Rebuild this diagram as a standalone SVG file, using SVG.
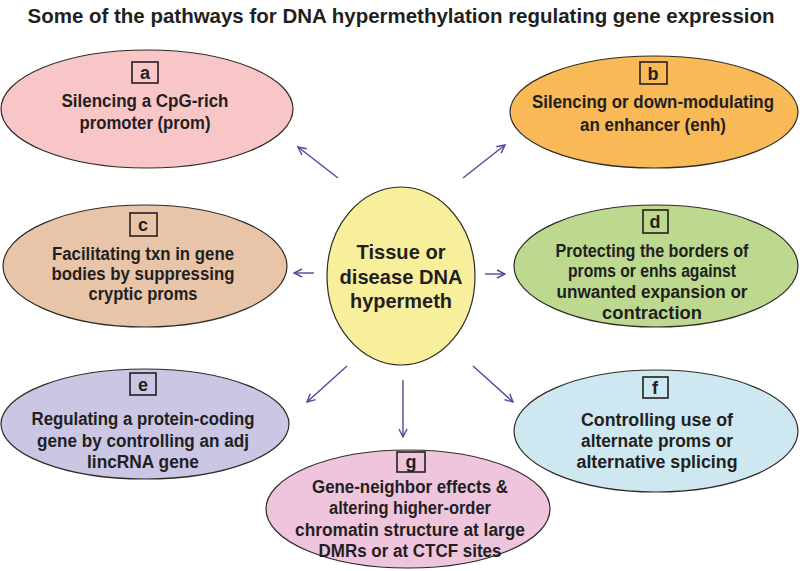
<svg xmlns="http://www.w3.org/2000/svg" width="800" height="571" viewBox="0 0 800 571">
<defs>
<style>
.node ellipse{stroke:#2f2a25;stroke-width:1.2}
.t{font-family:"Liberation Sans",Arial,sans-serif;font-weight:bold;font-size:17.5px;fill:#231f20;text-anchor:middle}
.ct{font-size:21px}
.lb{font-size:18px}
.box{fill:none;stroke:#231f20;stroke-width:1.6}
.conn line{stroke:#4d4a98;stroke-width:1.4;fill:none}
.title{font-family:"Liberation Sans",Arial,sans-serif;font-weight:bold;font-size:21px;fill:#231f20;text-anchor:middle}
</style>
<marker id="arr" viewBox="0 0 10 10" refX="9" refY="5" markerWidth="10" markerHeight="10" markerUnits="userSpaceOnUse" orient="auto">
<polyline points="1,1 9,5 1,9" fill="none" stroke="#4d4a98" stroke-width="1.4"/>
</marker>
</defs>
<rect width="800" height="571" fill="#ffffff"/>
<text class="title" x="401" y="23" textLength="747" lengthAdjust="spacingAndGlyphs">Some of the pathways for DNA hypermethylation regulating gene expression</text>

<g class="conn">
<line x1="338" y1="178" x2="298" y2="147" marker-end="url(#arr)"/>
<line x1="463" y1="178" x2="505" y2="145" marker-end="url(#arr)"/>
<line x1="314" y1="273" x2="294" y2="273" marker-end="url(#arr)"/>
<line x1="485" y1="274" x2="505" y2="274" marker-end="url(#arr)"/>
<line x1="347" y1="366" x2="307" y2="402" marker-end="url(#arr)"/>
<line x1="473" y1="366" x2="513" y2="402" marker-end="url(#arr)"/>
<line x1="403" y1="380" x2="403" y2="437" marker-end="url(#arr)"/>
</g>

<g id="center" class="node">
<ellipse cx="401" cy="276" rx="74" ry="89" fill="#f8ef9c"/>
<text class="t ct" x="401" y="259" textLength="89" lengthAdjust="spacingAndGlyphs">Tissue or</text>
<text class="t ct" x="401" y="284" textLength="123" lengthAdjust="spacingAndGlyphs">disease DNA</text>
<text class="t ct" x="401" y="308" textLength="102" lengthAdjust="spacingAndGlyphs">hypermeth</text>
</g>

<g id="node-a" class="node">
<ellipse cx="147" cy="109" rx="146" ry="59" fill="#f9c6c8"/>
<rect class="box" x="132" y="62" width="26" height="21"/>
<text class="t lb" x="145" y="79">a</text>
<text class="t" x="145" y="107" textLength="167" lengthAdjust="spacingAndGlyphs">Silencing a CpG-rich</text>
<text class="t" x="145" y="129" textLength="131" lengthAdjust="spacingAndGlyphs">promoter (prom)</text>
</g>

<g id="node-b" class="node">
<ellipse cx="654" cy="112" rx="144" ry="56" fill="#f8b956"/>
<rect class="box" x="640" y="62" width="27" height="22"/>
<text class="t lb" x="653" y="80">b</text>
<text class="t" x="653" y="108" textLength="242" lengthAdjust="spacingAndGlyphs">Silencing or down-modulating</text>
<text class="t" x="653" y="131" textLength="146" lengthAdjust="spacingAndGlyphs">an enhancer (enh)</text>
</g>

<g id="node-c" class="node">
<ellipse cx="145" cy="266" rx="142" ry="61" fill="#e8c5a9"/>
<rect class="box" x="130" y="213" width="27" height="23"/>
<text class="t lb" x="143" y="231">c</text>
<text class="t" x="143" y="260" textLength="182" lengthAdjust="spacingAndGlyphs">Facilitating txn in gene</text>
<text class="t" x="143" y="280" textLength="183" lengthAdjust="spacingAndGlyphs">bodies by suppressing</text>
<text class="t" x="143" y="300" textLength="109" lengthAdjust="spacingAndGlyphs">cryptic proms</text>
</g>

<g id="node-d" class="node">
<ellipse cx="656" cy="266" rx="142" ry="61" fill="#bcd98f"/>
<rect class="box" x="643" y="210" width="25" height="23"/>
<text class="t lb" x="655" y="228">d</text>
<text class="t" x="652" y="257" textLength="193" lengthAdjust="spacingAndGlyphs">Protecting the borders of</text>
<text class="t" x="652" y="277" textLength="168" lengthAdjust="spacingAndGlyphs">proms or enhs against</text>
<text class="t" x="652" y="298" textLength="191" lengthAdjust="spacingAndGlyphs">unwanted expansion or</text>
<text class="t" x="652" y="319" textLength="100" lengthAdjust="spacingAndGlyphs">contraction</text>
</g>

<g id="node-e" class="node">
<ellipse cx="145" cy="424" rx="144" ry="55" fill="#cac6e4"/>
<rect class="box" x="130" y="373" width="26" height="22"/>
<text class="t lb" x="143" y="391">e</text>
<text class="t" x="143" y="425" textLength="223" lengthAdjust="spacingAndGlyphs">Regulating a protein-coding</text>
<text class="t" x="143" y="447" textLength="212" lengthAdjust="spacingAndGlyphs">gene by controlling an adj</text>
<text class="t" x="143" y="468" textLength="112" lengthAdjust="spacingAndGlyphs">lincRNA gene</text>
</g>

<g id="node-f" class="node">
<ellipse cx="656" cy="431" rx="142" ry="61" fill="#cde8f0"/>
<rect class="box" x="643" y="377" width="25" height="21"/>
<text class="t lb" x="655" y="394">f</text>
<text class="t" x="657" y="426" textLength="152" lengthAdjust="spacingAndGlyphs">Controlling use of</text>
<text class="t" x="657" y="447" textLength="152" lengthAdjust="spacingAndGlyphs">alternate proms or</text>
<text class="t" x="657" y="468" textLength="161" lengthAdjust="spacingAndGlyphs">alternative splicing</text>
</g>

<g id="node-g" class="node">
<ellipse cx="408" cy="509" rx="142" ry="59" fill="#efc5dd"/>
<rect class="box" x="397" y="452" width="28" height="20"/>
<text class="t lb" x="411" y="468">g</text>
<text class="t" x="410" y="493" textLength="196" lengthAdjust="spacingAndGlyphs">Gene-neighbor effects &amp;</text>
<text class="t" x="410" y="514" textLength="162" lengthAdjust="spacingAndGlyphs">altering higher-order</text>
<text class="t" x="410" y="536" textLength="230" lengthAdjust="spacingAndGlyphs">chromatin structure at large</text>
<text class="t" x="410" y="557" textLength="183" lengthAdjust="spacingAndGlyphs">DMRs or at CTCF sites</text>
</g>
</svg>
